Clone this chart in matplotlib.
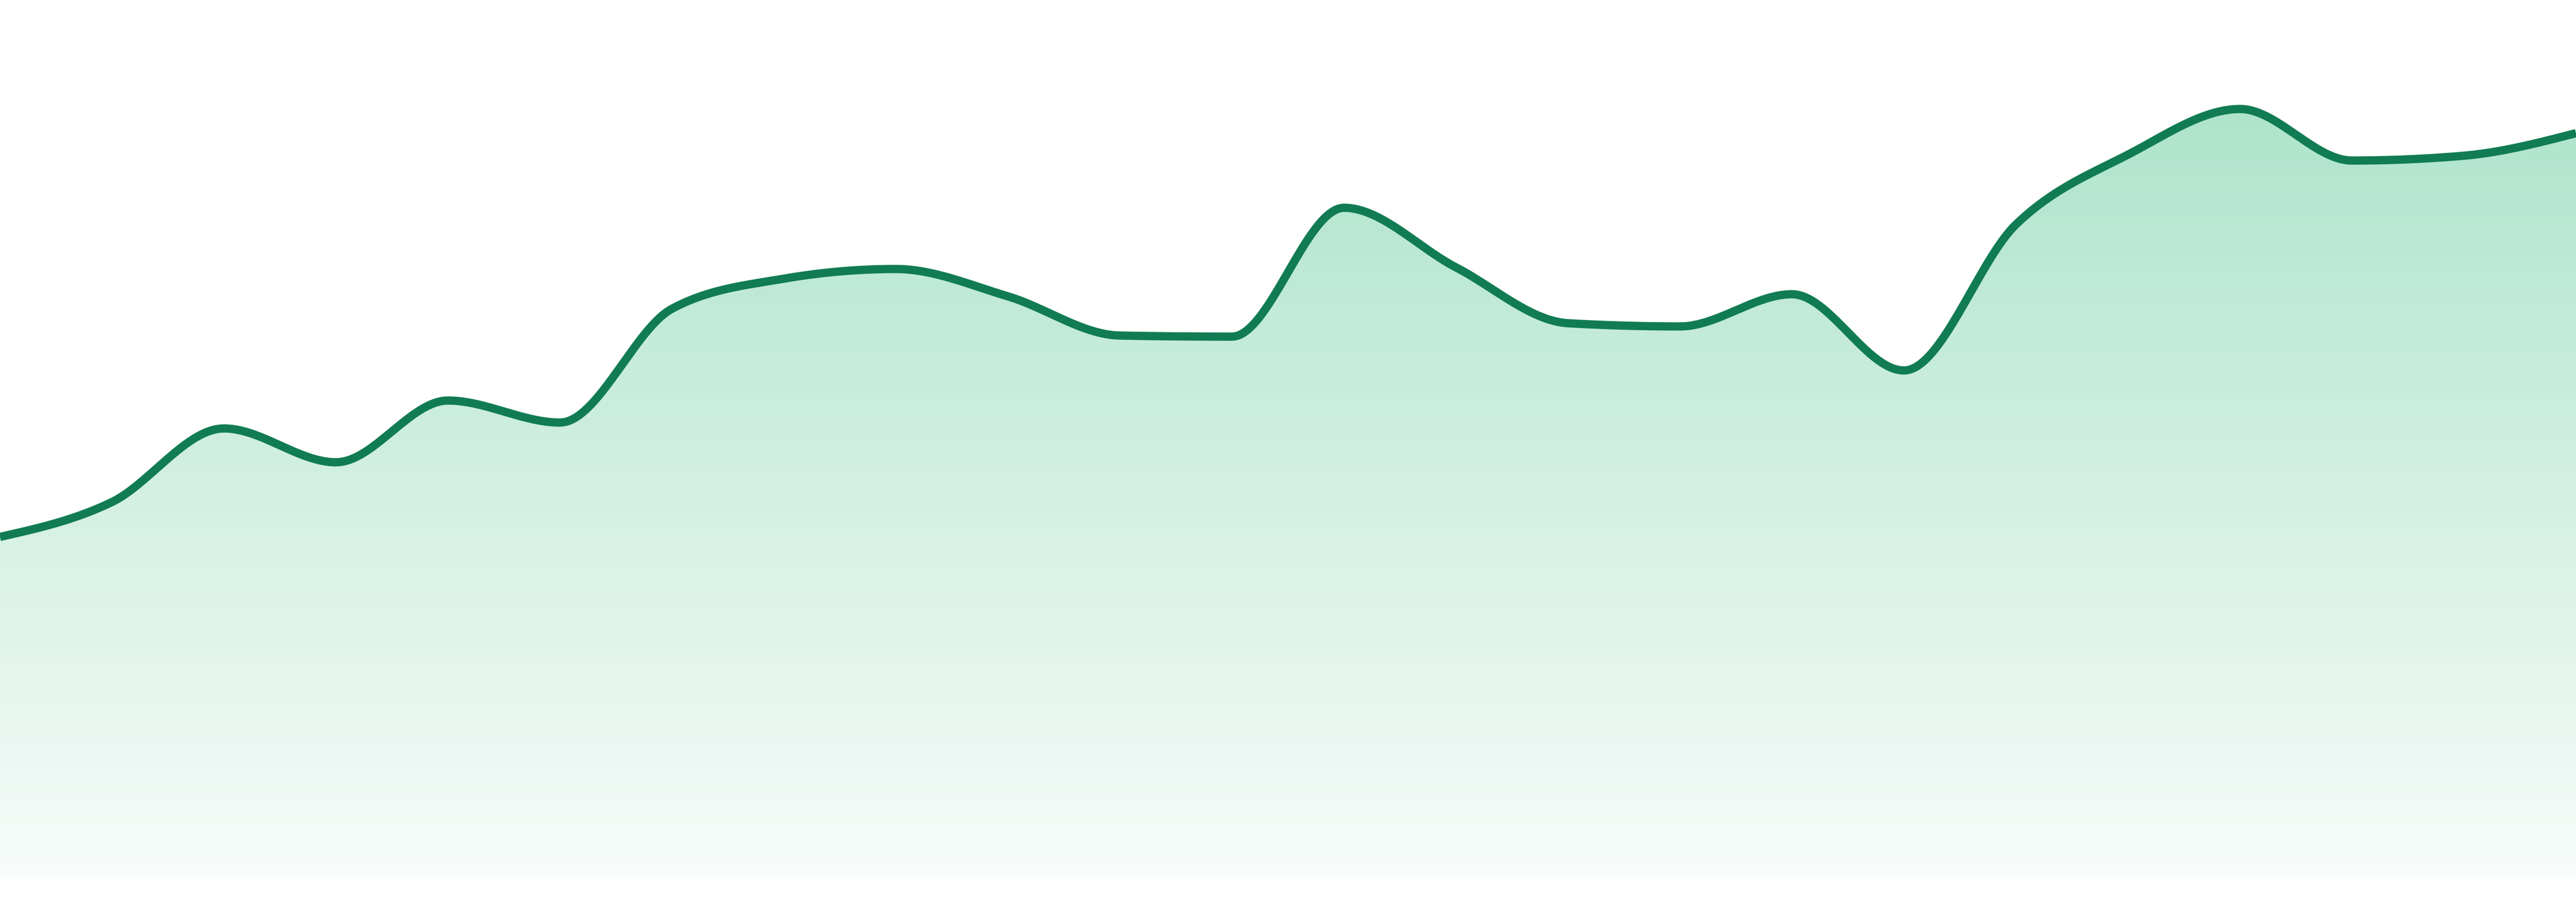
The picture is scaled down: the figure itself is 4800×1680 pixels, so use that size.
import numpy as np
import matplotlib
matplotlib.use("Agg")
import matplotlib.pyplot as plt
from matplotlib.colors import LinearSegmentedColormap
from matplotlib.patches import Polygon

# values, one per step
values = [632, 697, 834, 771, 886, 845, 1057, 1113, 1131, 1080, 1007, 1005,
          1245, 1134, 1030, 1024, 1084, 942, 1214, 1344, 1429, 1333, 1342, 1384]
steps = np.arange(len(values))

line_color = "#117c53"
fill_top = "#aee4cc"
fill_bottom = "#f8fcfa"


def monotone_curve(x, y, n=40):
    # same slopes as d3.curveMonotoneX
    x = np.asarray(x, float)
    y = np.asarray(y, float)
    h = np.diff(x)
    s = np.diff(y) / h
    m = np.zeros_like(y)
    for i in range(1, len(y) - 1):
        p = (s[i - 1] * h[i] + s[i] * h[i - 1]) / (h[i - 1] + h[i])
        m[i] = (np.sign(s[i - 1]) + np.sign(s[i])) * min(abs(s[i - 1]), abs(s[i]), 0.5 * abs(p))
    m[0] = (3 * s[0] - m[1]) / 2
    m[-1] = (3 * s[-1] - m[-2]) / 2
    xs, ys = [], []
    for i in range(len(h)):
        t = np.linspace(0, 1, n, endpoint=False)
        h00 = 2 * t**3 - 3 * t**2 + 1
        h10 = t**3 - 2 * t**2 + t
        h01 = -2 * t**3 + 3 * t**2
        h11 = t**3 - t**2
        xs.append(x[i] + t * h[i])
        ys.append(h00 * y[i] + h10 * h[i] * m[i] + h01 * y[i + 1] + h11 * h[i] * m[i + 1])
    xs.append([x[-1]])
    ys.append([y[-1]])
    return np.concatenate(xs), np.concatenate(ys)


cx, cy = monotone_curve(steps, values)

fig = plt.figure(figsize=(16, 5.6), dpi=300)
ax = fig.add_axes([0, 48 / 1680, 1, 1632 / 1680])
ax.set_xlim(steps[0], steps[-1])
ax.set_ylim(0, 1632)
ax.axis("off")

# gradient fill under the curve
top = max(values)
cmap = LinearSegmentedColormap.from_list("g", [fill_bottom, fill_top])
grad = np.linspace(0, 1, 256).reshape(-1, 1)
img = ax.imshow(grad, cmap=cmap, aspect="auto", origin="lower",
                extent=(steps[0], steps[-1], 0, top), zorder=1)
poly = Polygon(np.column_stack([np.r_[cx, cx[-1], cx[0]], np.r_[cy, 0, 0]]),
               closed=True, facecolor="none", edgecolor="none")
ax.add_patch(poly)
img.set_clip_path(poly)

ax.plot(cx, cy, color=line_color, lw=3.7, solid_capstyle="butt", zorder=3)

fig.savefig("out.png", dpi=300, facecolor="white")
